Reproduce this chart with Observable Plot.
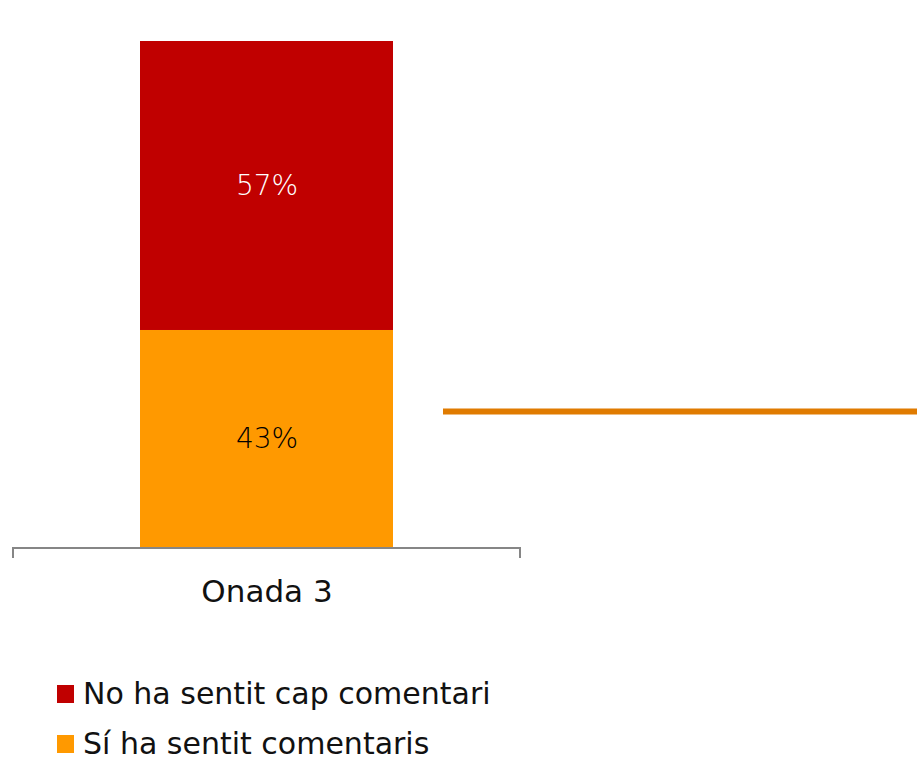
<!DOCTYPE html>
<html>
<head>
<meta charset="utf-8">
<script src="https://cdn.jsdelivr.net/npm/d3@7"></script>
<script src="https://cdn.jsdelivr.net/npm/@observablehq/plot@0.6"></script>
<style>
  body { margin: 0; background: #fff; font-family: "DejaVu Sans", sans-serif; overflow: hidden; }
  #legend { padding-top: 59px; }
  .row { height: 30px; line-height: 30px; margin-bottom: 20px; font-size: 30px; color: #111; display: flex; align-items: center; padding-left: 57px; }
  .sw { width: 17px; height: 18px; margin-right: 9px; }
</style>
</head>
<body>
<div id="chart"></div>
<div id="legend"></div>
<script>
const waves = ["Onada 3"];
const responses = ["Sí ha sentit comentaris", "No ha sentit cap comentari"];
const values = [43, 57];
const colors = ["#FF9900", "#C00000"];
const labelColors = ["#000000", "#ffffff"];
const referenceLine = [27];

const data = responses.map((r, i) => ({wave: waves[0], resp: r, value: values[i], lc: labelColors[i]}));

const W = 917, H = 620;
const plot = Plot.plot({
  width: W,
  height: H,
  marginLeft: 13,
  marginRight: 0,
  marginTop: 41,
  marginBottom: H - 548,
  style: {fontFamily: "'DejaVu Sans', sans-serif", background: "#fff"},
  x: {domain: waves, range: [13, 520], padding: 0.333},
  y: {domain: [0, 100], range: [548, 41], axis: null},
  color: {domain: responses, range: colors},
  marks: [
    Plot.barY(data, {x: "wave", y: "value", fill: "resp"}),
    Plot.text(data, Plot.stackY({x: "wave", y: "value", z: "resp", text: d => d.lc === "#ffffff" ? d.value + "%" : "", fill: "#ffffff", fontSize: 28, fontWeight: 300})),
    Plot.text(data, Plot.stackY({x: "wave", y: "value", z: "resp", text: d => d.lc === "#000000" ? d.value + "%" : "", fill: "#000000", fontSize: 28, fontWeight: 300})),
    Plot.ruleY(referenceLine, {stroke: "#E07B00", strokeWidth: 6, insetLeft: 430}),
    Plot.axisX({tickSize: 0, tickPadding: 31, fontSize: 31, fill: "#111", label: null})
  ]
});
document.getElementById("chart").appendChild(plot);

// axis baseline with end ticks, from the plot's own scales
const xs = plot.scale("x"), ys = plot.scale("y");
const x0 = xs.range[0], x1 = xs.range[1], y0 = ys.range[0];
d3.select(plot).append("path")
  .attr("d", `M${x0},${y0 + 10}V${y0}H${x1}V${y0 + 10}`)
  .attr("fill", "none").attr("stroke", "#868686").attr("stroke-width", 2);

const legend = d3.select("#legend");
[1, 0].forEach(i => {
  const row = legend.append("div").attr("class", "row");
  row.append("div").attr("class", "sw").style("background", colors[i]);
  row.append("span").text(responses[i]);
});
</script>
</body>
</html>
